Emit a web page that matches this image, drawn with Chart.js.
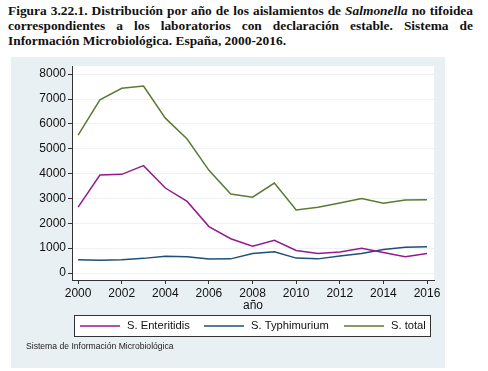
<!DOCTYPE html>
<html>
<head>
<meta charset="utf-8">
<script src="https://cdn.jsdelivr.net/npm/chart.js@4.4.0/dist/chart.umd.min.js"></script>
<style>
  body { margin: 0; background: #fff; width: 488px; height: 371px; position: relative; overflow: hidden; }
  #title {
    position: absolute; left: 8px; top: 3px; width: 465px;
    font-family: "Liberation Serif", "Times New Roman", serif;
    font-weight: bold; font-size: 13.4px; line-height: 15.2px; color: #111;
  }
  #title div { white-space: nowrap; }
  #title .j { text-align: justify; text-align-last: justify; }
  #panel { position: absolute; left: 11px; top: 57px; width: 434px; height: 311px; background: #e9f0f3; }
</style>
</head>
<body>
<div id="title">
  <div class="j">Figura 3.22.1. Distribución por año de los aislamientos de <i>Salmonella</i> no tifoidea</div>
  <div class="j">correspondientes a los laboratorios con declaración estable. Sistema de</div>
  <div>Información Microbiológica. España, 2000-2016.</div>
</div>
<canvas id="panel" width="434" height="311"></canvas>
<script>
// years and counts
var years = [2000, 2001, 2002, 2003, 2004, 2005, 2006, 2007, 2008, 2009, 2010, 2011, 2012, 2013, 2014, 2015, 2016];
var enteritidis = [2650, 3940, 3970, 4320, 3420, 2880, 1870, 1380, 1080, 1320, 910, 790, 850, 1000, 830, 660, 790];
var typhimurium = [530, 510, 530, 590, 680, 660, 560, 570, 790, 860, 600, 570, 690, 790, 950, 1040, 1060];
var total = [5550, 6970, 7430, 7520, 6230, 5390, 4130, 3180, 3050, 3620, 2540, 2650, 2820, 3000, 2810, 2940, 2950];
var seriesNames = ["S. Enteritidis", "S. Typhimurium", "S. total"];
var seriesColors = ["#951b8c", "#1f4f78", "#5b7a32"];
var yTicks = [0, 1000, 2000, 3000, 4000, 5000, 6000, 7000, 8000];
var xTicks = [2000, 2002, 2004, 2006, 2008, 2010, 2012, 2014, 2016];

function pts(vals) {
    return years.map(function(y, i) { return {x: y, y: vals[i]}; });
}

// white plot region
var plotBg = {
    id: 'plotBg',
    beforeDraw: function(chart) {
        var a = chart.chartArea, ctx = chart.ctx;
        ctx.save();
        ctx.fillStyle = '#ffffff';
        ctx.fillRect(a.left, a.top, a.right - a.left, a.bottom - a.top);
        ctx.restore();
    }
};

// boxed legend and source note, drawn like the Stata output
var boxLegend = {
    id: 'boxLegend',
    afterDraw: function(chart) {
        var ctx = chart.ctx;
        ctx.save();
        ctx.fillStyle = '#ffffff';
        ctx.fillRect(63.5, 258.5, 356, 21);
        ctx.strokeStyle = '#333';
        ctx.lineWidth = 1;
        ctx.strokeRect(63.5, 258.5, 356, 21);
        var lineX = [69, 193, 333];
        ctx.font = '11.2px "Liberation Sans", Arial, sans-serif';
        ctx.textBaseline = 'middle';
        chart.data.datasets.forEach(function(ds, i) {
            ctx.strokeStyle = ds.borderColor;
            ctx.lineWidth = 1.5;
            ctx.beginPath();
            ctx.moveTo(lineX[i], 269);
            ctx.lineTo(lineX[i] + 40, 269);
            ctx.stroke();
            ctx.fillStyle = '#111';
            ctx.fillText(ds.label, lineX[i] + 47, 269);
        });
        ctx.font = '8.6px "Liberation Sans", Arial, sans-serif';
        ctx.fillStyle = '#222';
        ctx.fillText('Sistema de Información Microbiológica', 15, 290);
        ctx.restore();
    }
};

new Chart(document.getElementById('panel').getContext('2d'), {
    type: 'line',
    data: {
        datasets: [
            {label: seriesNames[0], data: pts(enteritidis), borderColor: seriesColors[0]},
            {label: seriesNames[1], data: pts(typhimurium), borderColor: seriesColors[1]},
            {label: seriesNames[2], data: pts(total), borderColor: seriesColors[2]}
        ].map(function(d) {
            d.borderWidth = 1.5; d.pointRadius = 0; d.tension = 0; d.fill = false;
            return d;
        })
    },
    options: {
        responsive: false,
        animation: false,
        devicePixelRatio: 1,
        layout: { padding: { top: 5, right: 11, bottom: 55, left: 0 } },
        plugins: { legend: { display: false }, tooltip: { enabled: false } },
        scales: {
            x: {
                type: 'linear',
                min: 1999.72,
                max: 2016.32,
                afterBuildTicks: function(s) { s.ticks = xTicks.map(function(v) { return {value: v}; }); },
                afterFit: function(s) { s.height = 33; },
                grid: { drawOnChartArea: false, drawTicks: true, tickLength: 4, tickColor: '#333' },
                border: { display: true, color: '#333', width: 1 },
                ticks: {
                    color: '#111', padding: 2, maxRotation: 0,
                    font: { family: '"Liberation Sans", Arial, sans-serif', size: 12 },
                    callback: function(v) { return String(v); }
                },
                title: {
                    display: true, text: 'año', color: '#111', padding: { top: 0, bottom: 0 },
                    font: { family: '"Liberation Sans", Arial, sans-serif', size: 12 }
                }
            },
            y: {
                min: -280,
                max: 8320,
                afterBuildTicks: function(s) { s.ticks = yTicks.map(function(v) { return {value: v}; }); },
                afterFit: function(s) { s.width = 61; },
                grid: { color: '#eef2f5', drawTicks: true, tickLength: 4, tickColor: '#333' },
                border: { display: true, color: '#333', width: 1 },
                ticks: {
                    color: '#111', padding: 2,
                    font: { family: '"Liberation Sans", Arial, sans-serif', size: 12 },
                    callback: function(v) { return String(v); }
                }
            }
        }
    },
    plugins: [plotBg, boxLegend]
});
</script>
</body>
</html>
